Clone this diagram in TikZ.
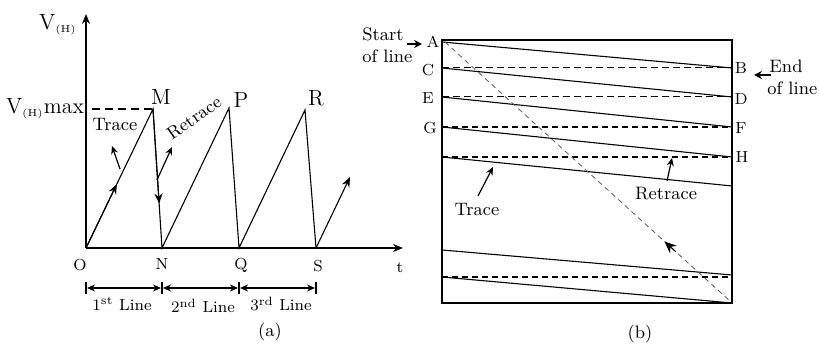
\documentclass[tikz,border=0pt]{standalone}
\usetikzlibrary{arrows.meta,calc}
\begin{document}
\begin{tikzpicture}[x=0.5pt,y=-0.5pt,
  axis/.style={line width=0.9pt},
  saw/.style={line width=0.55pt},
  ptr/.style={line width=0.6pt,-{Stealth[length=4pt,width=3.5pt]}},
  fat/.style={line width=0.9pt,-{Stealth[length=4pt,width=4pt]}},
  big/.style={font=\fontsize{11}{12}\selectfont,inner sep=0pt},
  mid/.style={font=\fontsize{9}{10}\selectfont,inner sep=0pt},
  sml/.style={font=\fontsize{8}{9}\selectfont,inner sep=0pt},
  thind/.style={line width=0.5pt,dash pattern=on 3.5pt off 2pt},
  thickd/.style={line width=1pt,dash pattern=on 3pt off 2pt},
  diag/.style={line width=0.4pt,gray!70!black,dash pattern=on 2.5pt off 2pt}]
\useasboundingbox (0,0) rectangle (819,346);
% ---------- panel (a) ----------
\coordinate (O) at (86,248);
\coordinate (N) at (162,248);
\coordinate (Q) at (239,248);
\coordinate (S) at (316,248);
\coordinate (M) at (153,109);
\coordinate (P) at (229,108);
\coordinate (R) at (305,110);
\coordinate (ytop) at (86,14);
\coordinate (xend) at (403,248);
\coordinate (Send) at (350,177);
\draw[axis,-{Stealth[length=5pt,width=4pt]}] (O) -- (ytop);
\draw[axis,-{Stealth[length=5pt,width=4pt]}] (O) -- (xend);
\draw[saw] (O) -- (M) -- (N) -- (P) -- (Q) -- (R) -- (S);
\draw[saw,-{Stealth[length=5pt,width=4pt]}] (S) -- (Send);
\coordinate (dm0) at (92,109);
\draw[line width=1pt,dash pattern=on 4pt off 2.5pt] (dm0) -- (M);
% arrows on lines
\draw[saw,-{Stealth[length=5pt,width=4pt]}] (O) -- ($(O)!0.46!(M)$);
\draw[saw,-{Stealth[length=5pt,width=4pt]}] (M) -- ($(M)!0.68!(N)$);
% labels
\node[big] (lV) at (58,25) {V$_{\scriptscriptstyle(\mathrm{H})}$};
\node[big] (lVmax) at (45,109) {V$_{\scriptscriptstyle(\mathrm{H})}$max};
\node[big] (lM) at (161,97) {M};
\node[big] (lP) at (241,100) {P};
\node[big] (lR) at (316,98) {R};
\node[sml] (lO) at (80,265) {O};
\node[sml] (lN) at (162,264) {N};
\node[sml] (lQ) at (241,265) {Q};
\node[sml] (lS) at (318,266) {S};
\node[sml] (lt) at (400,268) {t};
\node[mid] (trA) at (115,125) {Trace};
\coordinate (trA1) at (120,169);
\draw[ptr] (trA1) -- (112,146);
\node[mid,rotate=35] (rtA) at (194,118) {Retrace};
\coordinate (rtA1) at (157,180);
\draw[ptr] (rtA1) -- (172,147);
% dimension lines
\foreach \p in {O,N,Q,S} {\draw[line width=0.6pt] ($(\p)+(0,34)$) -- ($(\p)+(0,46)$);}
\draw[line width=0.8pt,{Stealth[length=4pt,width=3.5pt]}-{Stealth[length=4pt,width=3.5pt]}] ($(O)+(1,40)$) -- ($(N)+(-1,40)$);
\draw[line width=0.8pt,{Stealth[length=4pt,width=3.5pt]}-{Stealth[length=4pt,width=3.5pt]}] ($(N)+(1,40)$) -- ($(Q)+(-1,40)$);
\draw[line width=0.8pt,{Stealth[length=4pt,width=3.5pt]}-{Stealth[length=4pt,width=3.5pt]}] ($(Q)+(1,40)$) -- ($(S)+(-1,40)$);
\node[sml] (l1) at (122,304) {1$^{\mathrm{st}}$ Line};
\node[sml] (l2) at (203,306) {2$^{\mathrm{nd}}$ Line};
\node[sml] (l3) at (281,304) {3$^{\mathrm{rd}}$ Line};
\node[mid] (la) at (270,332) {(a)};
% ---------- panel (b) ----------
\draw[line width=1pt] (442,40) rectangle (732,303);
\coordinate (A) at (442,42);
\coordinate (B) at (732,68);
\coordinate (C) at (442,68);
\coordinate (D) at (732,97);
\coordinate (E) at (442,97);
\coordinate (F) at (732,127);
\coordinate (G) at (442,127);
\coordinate (H) at (732,157);
\coordinate (I) at (442,157);
\coordinate (J) at (732,186);
\coordinate (K) at (442,250);
\coordinate (L) at (732,275);
\coordinate (Z) at (442,277);
\coordinate (Y) at (732,277);
\coordinate (W) at (732,303);
\draw[saw] (A) -- (B);
\draw[thind] (C) -- (B);
\draw[saw] (C) -- (D);
\draw[thind] (E) -- (D);
\draw[saw] (E) -- (F);
\draw[thickd] (G) -- (F);
\draw[saw] (G) -- (H);
\draw[thickd] (I) -- (H);
\draw[saw] (I) -- (J);
\draw[saw] (K) -- (L);
\draw[thickd] (Z) -- (Y);
\draw[saw] (Z) -- (W);
\coordinate (A2) at (445,42);
\coordinate (W2) at (730,301);
\draw[diag] (A2) -- (W2);
\draw[line width=0.5pt,-{Stealth[length=6pt,width=5pt]}] ($(W2)!0.19!(A2)$) -- ($(W2)!0.23!(A2)$);
\node[sml] (lA) at (433,42) {A};
\node[sml] (lB) at (741,68) {B};
\node[sml] (lC) at (428,70) {C};
\node[sml] (lD) at (741,99) {D};
\node[sml] (lE) at (428,98) {E};
\node[sml] (lF) at (741,128) {F};
\node[sml] (lG) at (430,128) {G};
\node[sml] (lH) at (742,157) {H};
\node[mid,anchor=west] (st1) at (362,34) {Start};
\node[mid,anchor=west] (st2) at (362,56) {of line};
\coordinate (sa) at (407,44);
\draw[fat] (sa) -- (422,44);
\node[mid,anchor=west] (en1) at (769,66) {End};
\node[mid,anchor=west] (en2) at (767,88) {of line};
\coordinate (ea) at (771,75);
\draw[fat] (ea) -- (754,75);
\node[mid] (trB) at (477,210) {Trace};
\coordinate (trB1) at (478,196);
\draw[ptr] (trB1) -- (493,167);
\node[mid] (rtB) at (666,194) {Retrace};
\coordinate (rtB1) at (667,181);
\draw[ptr] (rtB1) -- (672,158);
\node[mid] (lb) at (640,334) {(b)};
\end{tikzpicture}
\end{document}
